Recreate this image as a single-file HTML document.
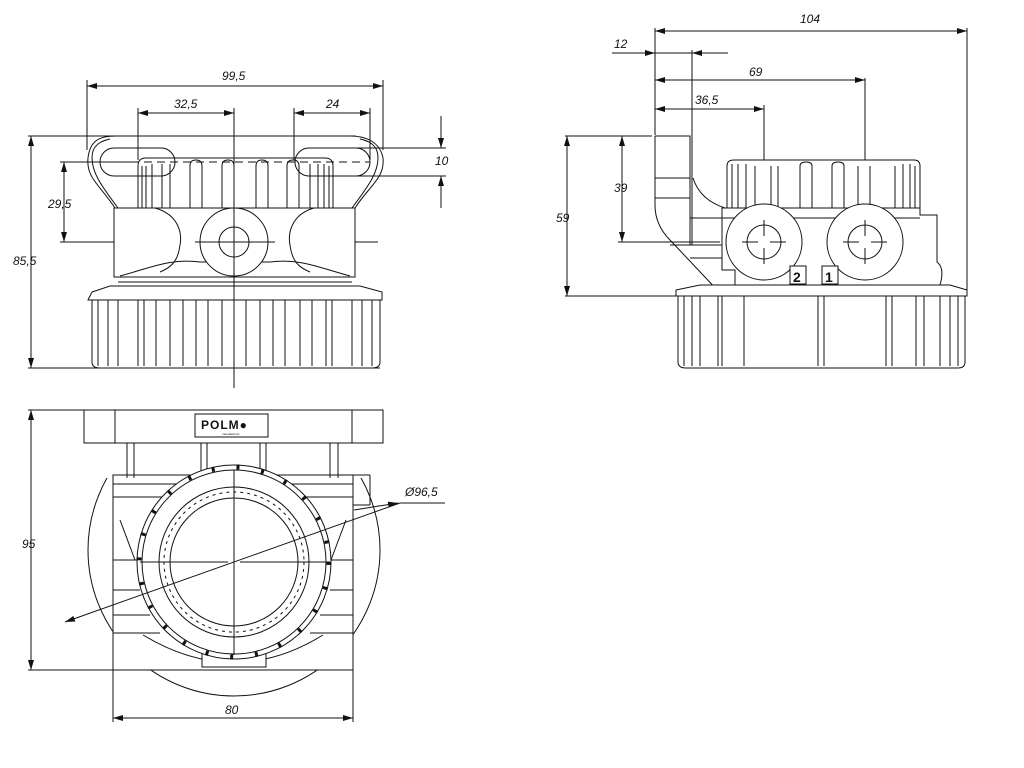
<!DOCTYPE html>
<html><head><meta charset="utf-8"><style>
html,body{margin:0;padding:0;background:#fff;width:1024px;height:768px;overflow:hidden}
svg text{font-family:"Liberation Sans",sans-serif;font-style:italic;font-size:12px;fill:#111}
</style></head><body>
<svg width="1024" height="768" viewBox="0 0 1024 768" xmlns="http://www.w3.org/2000/svg">
<defs>
<marker id="a" viewBox="0 0 10 6" refX="10" refY="3" markerWidth="10" markerHeight="6" orient="auto-start-reverse"><path d="M0,0 L10,3 L0,6 z" fill="#111"/></marker>
<clipPath id="cl"><rect x="0" y="478" width="1024" height="300"/></clipPath>
</defs>
<g stroke="#111" stroke-width="1" fill="none">
<!-- ===== FRONT VIEW ===== -->
<line x1="87" y1="80" x2="87" y2="150"/><line x1="383" y1="80" x2="383" y2="150"/>
<line x1="87" y1="86" x2="383" y2="86" marker-start="url(#a)" marker-end="url(#a)"/>
<line x1="138" y1="108" x2="138" y2="160"/><line x1="138" y1="113" x2="234" y2="113" marker-start="url(#a)" marker-end="url(#a)"/>
<line x1="294" y1="108" x2="294" y2="160"/><line x1="370" y1="108" x2="370" y2="160"/>
<line x1="294" y1="113" x2="370" y2="113" marker-start="url(#a)" marker-end="url(#a)"/>
<line x1="234" y1="108" x2="234" y2="388"/>
<line x1="28" y1="136" x2="356" y2="136"/>
<line x1="60" y1="162" x2="138" y2="162"/>
<line x1="60" y1="242" x2="378" y2="242"/>
<line x1="64" y1="162" x2="64" y2="242" marker-start="url(#a)" marker-end="url(#a)"/>
<line x1="335" y1="148" x2="446" y2="148"/><line x1="335" y1="176" x2="446" y2="176"/>
<line x1="441" y1="116" x2="441" y2="148" marker-end="url(#a)"/>
<line x1="441" y1="208" x2="441" y2="176" marker-end="url(#a)"/>
<line x1="31" y1="136" x2="31" y2="368" marker-start="url(#a)" marker-end="url(#a)"/>
<line x1="28" y1="368" x2="380" y2="368"/>
<!-- ears -->
<path d="M115,208 C100,185 86,178 88,158 C90,140 100,136 116,136 L350,136 C366,136 380,142 383,158 C385,178 370,185 355,208"/>
<path d="M110,139 C95,142 92,150 92,158 C92,172 100,184 118,208"/>
<path d="M360,139 C375,142 378,150 378,158 C378,172 370,184 352,208"/>
<rect x="100" y="148" width="75" height="28" rx="14"/>
<rect x="295" y="148" width="75" height="28" rx="14"/>
<line x1="105" y1="162" x2="370" y2="162" stroke-dasharray="8,5"/>
<!-- cap -->
<path d="M138,208 L138,166 Q138,158 146,158 L325,158 Q333,158 333,166 L333,208"/>
<g>
<path d="M142,208V166M146,208V166M152,208V164M162,208V164M170,208V164"/>
<path d="M190,208V166Q190,160 196,160Q202,160 202,166V208"/>
<path d="M222,208V166Q222,160 228,160Q234,160 234,166V208"/>
<path d="M256,208V166Q256,160 262,160Q268,160 268,166V208"/>
<path d="M287,208V166Q287,160 293,160Q299,160 299,166V208"/>
<path d="M310,208V164M318,208V164M324,208V164M329,208V166"/>
</g>
<!-- middle body -->
<rect x="114" y="208" width="241" height="69" fill="#fff"/>
<path d="M155,208 C180,215 182,235 180,245 C178,262 170,268 160,272"/>
<path d="M314,208 C290,215 288,235 290,245 C292,262 300,268 310,272"/>
<path d="M120,276 C150,268 170,258 200,262 L270,262 C300,258 320,268 350,276"/>
<circle cx="234" cy="242" r="34" fill="#fff"/><circle cx="234" cy="242" r="15"/>
<line x1="234" y1="205" x2="234" y2="280"/><line x1="195" y1="242" x2="275" y2="242"/>
<line x1="118" y1="282" x2="352" y2="282"/>
<!-- bottom knurl -->
<path d="M92,292 L110,286 L360,286 L382,292 L382,300 L88,300 Z"/>
<path d="M92,300 L92,362 Q92,368 100,368 L372,368 Q380,368 380,362 L380,300"/>
<path d="M98,300V366M108,300V366M118,300V366M138,300V366M144,300V366M156,300V366M170,300V366M183,300V366M196,300V366M208,300V366M222,300V366M246,300V366M260,300V366M273,300V366M285,300V366M300,300V366M312,300V366M326,300V366M332,300V366M352,300V366M362,300V366M372,300V366"/>
<text x="222" y="80" stroke="none">99,5</text>
<text x="174" y="108" stroke="none">32,5</text>
<text x="326" y="108" stroke="none">24</text>
<text x="48" y="208" stroke="none">29,5</text>
<text x="435" y="165" stroke="none">10</text>
<text x="13" y="265" stroke="none">85,5</text>

<!-- ===== BOTTOM VIEW ===== -->
<line x1="28" y1="410" x2="84" y2="410"/>
<line x1="31" y1="410" x2="31" y2="670" marker-start="url(#a)" marker-end="url(#a)"/>
<line x1="28" y1="670" x2="240" y2="670"/>
<circle cx="234" cy="550" r="146" clip-path="url(#cl)"/>
<rect x="113" y="475" width="240" height="195" fill="#fff"/>
<rect x="84" y="410" width="299" height="33" fill="#fff"/>
<line x1="115" y1="410" x2="115" y2="443"/><line x1="352" y1="410" x2="352" y2="443"/>
<rect x="195" y="414" width="73" height="23"/>
<path d="M127,443V478M134,443V478M201,443V475M207,443V475M260,443V475M266,443V475M330,443V478M338,443V478"/>
<line x1="113" y1="484" x2="353" y2="484"/>
<line x1="113" y1="497" x2="200" y2="497"/><line x1="270" y1="497" x2="353" y2="497"/>
<line x1="353" y1="475" x2="370" y2="475"/><line x1="370" y1="475" x2="370" y2="505"/><line x1="353" y1="505" x2="370" y2="505"/>
<line x1="113" y1="560" x2="140" y2="560"/><line x1="330" y1="560" x2="353" y2="560"/>
<line x1="113" y1="590" x2="140" y2="590"/><line x1="330" y1="590" x2="353" y2="590"/>
<line x1="113" y1="615" x2="150" y2="615"/><line x1="320" y1="615" x2="353" y2="615"/>
<line x1="113" y1="633" x2="160" y2="633"/><line x1="310" y1="633" x2="353" y2="633"/>
<path d="M143,635 Q234,690 323,635"/>
<rect x="202" y="645" width="64" height="22" fill="#fff"/>
<path d="M120,520 L135,560 M346,520 L331,560"/>
<circle cx="234" cy="562" r="97" fill="#fff"/>
<circle cx="234" cy="562" r="92"/>
<circle cx="234" cy="562" r="75"/>
<circle cx="234" cy="562" r="70" stroke-dasharray="3,4"/>
<circle cx="234" cy="562" r="64"/>
<circle cx="234" cy="562" r="95" stroke-dasharray="3,22" stroke-width="5"/>
<line x1="234" y1="470" x2="234" y2="655"/>
<line x1="140" y1="562" x2="228" y2="562"/><line x1="240" y1="562" x2="330" y2="562"/>
<line x1="65" y1="622" x2="400" y2="503" marker-start="url(#a)"/>
<line x1="400" y1="503" x2="445" y2="503"/>
<line x1="354" y1="510" x2="398" y2="503" marker-end="url(#a)"/>
<line x1="113" y1="670" x2="113" y2="722"/><line x1="353" y1="670" x2="353" y2="722"/>
<line x1="113" y1="718" x2="353" y2="718" marker-start="url(#a)" marker-end="url(#a)"/>
<text x="405" y="496" stroke="none">Ø96,5</text>
<text x="22" y="548" stroke="none">95</text>
<text x="225" y="714" stroke="none">80</text>

<!-- ===== SIDE VIEW ===== -->
<line x1="655" y1="28" x2="655" y2="135"/><line x1="967" y1="28" x2="967" y2="292"/>
<line x1="655" y1="31" x2="967" y2="31" marker-start="url(#a)" marker-end="url(#a)"/>
<line x1="612" y1="53" x2="728" y2="53"/>
<line x1="630" y1="53" x2="655" y2="53" marker-end="url(#a)"/>
<line x1="715" y1="53" x2="692" y2="53" marker-end="url(#a)"/>
<line x1="692" y1="50" x2="692" y2="245"/>
<line x1="655" y1="80" x2="865" y2="80" marker-start="url(#a)" marker-end="url(#a)"/>
<line x1="865" y1="78" x2="865" y2="270"/>
<line x1="655" y1="109" x2="764" y2="109" marker-start="url(#a)" marker-end="url(#a)"/>
<line x1="764" y1="105" x2="764" y2="270"/>
<line x1="565" y1="136" x2="652" y2="136"/><line x1="565" y1="296" x2="676" y2="296"/>
<line x1="567" y1="136" x2="567" y2="296" marker-start="url(#a)" marker-end="url(#a)"/>
<line x1="618" y1="242" x2="720" y2="242"/>
<line x1="622" y1="136" x2="622" y2="242" marker-start="url(#a)" marker-end="url(#a)"/>
<!-- bracket -->
<path d="M655,136 L690,136 L690,245 M655,136 L655,205 Q655,225 670,240 L720,293"/>
<line x1="655" y1="178" x2="690" y2="178"/><line x1="655" y1="198" x2="690" y2="198"/>
<path d="M693,178 Q700,200 725,208"/>
<line x1="690" y1="218" x2="725" y2="218"/>
<path d="M670,245 L725,245 M690,258 L725,258"/>
<!-- cap -->
<path d="M727,208 L727,166 Q727,160 734,160 L914,160 Q920,160 920,166 L920,208 Z" fill="#fff"/>
<path d="M732,208V164M738,208V164M746,208V164M755,208V166M800,208V166Q800,162 806,162Q812,162 812,166V208M832,208V166Q832,162 838,162Q844,162 844,166V208M895,208V166M903,208V164M910,208V164M915,208V166M771,208V166M778,208V166M858,208V166M870,208V166"/>
<!-- body -->
<path d="M722,208 L920,208 L920,215 L937,215 L937,262 Q945,268 940,285 L735,285 L735,270 L722,270 Z" fill="#fff"/>
<line x1="722" y1="218" x2="920" y2="218"/>
<circle cx="764" cy="242" r="38" fill="#fff"/><circle cx="764" cy="242" r="17"/>
<circle cx="865" cy="242" r="38" fill="#fff"/><circle cx="865" cy="242" r="17"/>
<path d="M764,220V236M764,248V264M742,242H758M770,242H786"/>
<path d="M865,220V236M865,248V264M843,242H859M871,242H887"/>
<rect x="790" y="266" width="16" height="18" fill="#fff"/><rect x="822" y="266" width="16" height="18" fill="#fff"/>
<!-- base -->
<path d="M676,290 L700,285 L950,285 L967,290 L967,296 L676,296 Z" fill="#fff"/>
<path d="M678,296 L678,362 Q678,368 686,368 L958,368 Q965,368 965,362 L965,296"/>
<path d="M684,296V366M692,296V366M700,296V366M718,296V366M722,296V366M744,296V366M818,296V366M824,296V366M886,296V366M892,296V366M916,296V366M924,296V366M940,296V366M950,296V366M958,296V366"/>
<text x="800" y="23" stroke="none">104</text>
<text x="614" y="48" stroke="none">12</text>
<text x="749" y="76" stroke="none">69</text>
<text x="695" y="104" stroke="none">36,5</text>
<text x="556" y="222" stroke="none">59</text>
<text x="614" y="192" stroke="none">39</text>
</g>
<text x="201" y="429" style="font-style:normal;font-weight:bold;font-size:12px;letter-spacing:1px">POLM●</text>
<text x="222" y="435" style="font-style:normal;font-size:3px">manufacturer</text>
<text x="793" y="282" style="font-style:normal;font-weight:bold;font-size:14px">2</text>
<text x="825" y="282" style="font-style:normal;font-weight:bold;font-size:14px">1</text>
</svg>
</body></html>
